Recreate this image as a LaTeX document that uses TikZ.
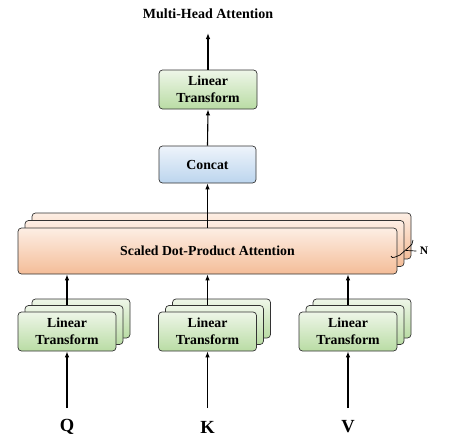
\documentclass[tikz,border=0pt]{standalone}
\usepackage{fontspec}
\setmainfont{Liberation Serif}
\usetikzlibrary{calc, positioning, arrows.meta}

\definecolor{greentop}{HTML}{EEF6E8}
\definecolor{greenbot}{HTML}{B9DCA4}
\definecolor{bluetop}{HTML}{EEF4FB}
\definecolor{bluebot}{HTML}{BCD5EE}
\definecolor{orangetop}{HTML}{FDEEE4}
\definecolor{orangebot}{HTML}{F4BD98}

\begin{document}
\begin{tikzpicture}[x=1pt, y=-1pt,
  box/.style={draw=black!80, line width=0.7pt, rounded corners=3.5pt, align=center,
    inner sep=0pt, font=\bfseries\fontsize{13.8}{16.5}\selectfont},
  lin/.style={box, top color=greentop, bottom color=greenbot, minimum width=98pt, minimum height=39pt},
  cat/.style={box, top color=bluetop, bottom color=bluebot, minimum width=97pt, minimum height=37pt},
  att/.style={box, top color=orangetop, bottom color=orangebot, minimum width=379pt, minimum height=46pt},
  flow/.style={line width=1.1pt, -{Latex[length=6pt,width=4.5pt]}},
  lbl/.style={font=\bfseries\fontsize{18.5}{20}\selectfont}]
\useasboundingbox (0,0) rectangle (450,447);

% Output side
\node[font=\bfseries\fontsize{14}{16}\selectfont] (title) at (208,14) {Multi-Head Attention};
\coordinate (out) at (208,33);
\node[lin] (linout) at (208,89.5) {Linear\\Transform};
\node[cat] (concat) at (207.5,164.5) {Concat};

% Scaled dot-product attention, N copies
\node[att] (att3) at (221.5,236) {};
\node[att] (att2) at (214.5,243.5) {};
\node[att] (att) at (207.5,251) {Scaled Dot-Product Attention};
\draw[line width=0.7pt] (391,256) to[out=-80,in=200] (400,255) -- (409,247) to[out=20,in=-100] (413,240);
\node[font=\bfseries\fontsize{11.5}{12}\selectfont] (nlbl) at (424,251) {N};
\draw[line width=0.7pt] (406,250.5) -- (nlbl.west);

% Input side, one stack for each of Q, K, V
\foreach \x/\n/\t in {67/q/Q, 207.5/k/K, 348/v/V} {
  \node[lin] (lin\n3) at (\x+14,318.5) {};
  \node[lin] (lin\n2) at (\x+7,325) {};
  \node[lin] (lin\n) at (\x,331.5) {Linear\\Transform};
  \node[lbl] (in\n) at (\x,427) {\t};
  \coordinate (src\n) at (\x,408);
  \draw[flow] (src\n) -- (lin\n.south);
  \draw[flow] (lin\n2.north -| lin\n.north) -- (lin\n.north |- att.south);
}

\draw[flow] (att.north) -- (concat.south);
\draw[flow] (concat.north) -- (linout.south);
\draw[flow] (linout.north) -- (out);
\end{tikzpicture}
\end{document}
